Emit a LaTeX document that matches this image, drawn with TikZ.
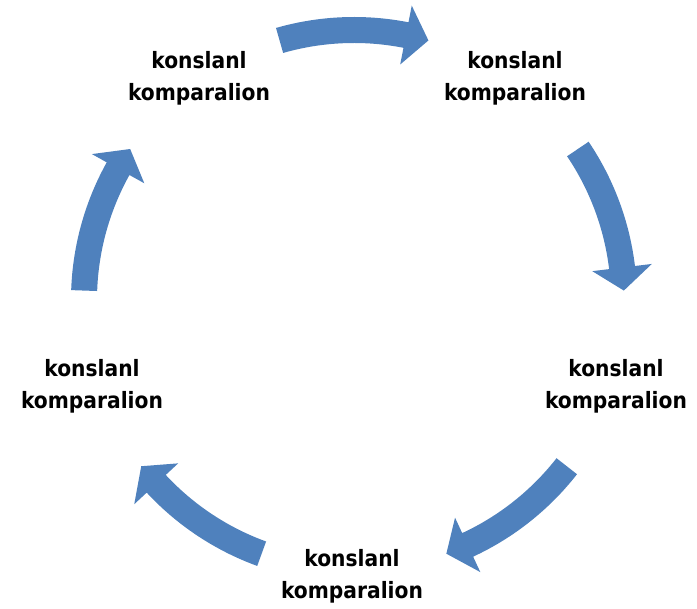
\documentclass[tikz,border=0pt]{standalone}
\usepackage{fontspec}
\setmainfont{DejaVu Sans}
\newfontfamily\stagefont{DejaVu Sans Condensed}
\usetikzlibrary{calc}
\definecolor{cycleblue}{HTML}{4F81BD}
% curved block arrow on the cycle: #1 = tail angle, #2 = tip angle (runs clockwise)
\newcommand\cyclearc[2]{%
  \fill[cyclefill, shift={(C)}]
    ({#1}:283) arc[start angle={#1}, end angle={#2+4.9}, radius=283]
    -- ({#2+4.9}:300) -- ({#2}:270) -- ({#2+4.9}:240) -- ({#2+4.9}:257)
    arc[start angle={#2+4.9}, end angle={#1}, radius=257] -- cycle;}
\begin{document}
\begin{tikzpicture}[x=1pt,y=1pt,
  steplabel/.style={align=center, font=\stagefont\fontsize{22.5}{32}\selectfont\bfseries,
    text=black, inner sep=0pt},
  cyclefill/.style={fill=cycleblue, draw=none}]
\useasboundingbox (0,0) rectangle (697,609);
\coordinate (C) at (354,309);

% the five stages
\node[steplabel] (n1) at (199,531) {konslanl\\komparalion};
\node[steplabel] (n2) at (515,531) {konslanl\\komparalion};
\node[steplabel] (n3) at (616,223) {konslanl\\komparalion};
\node[steplabel] (n4) at (352,33)  {konslanl\\komparalion};
\node[steplabel] (n5) at (92,223)  {konslanl\\komparalion};

% arrows between consecutive stages
\cyclearc{106}{74}
\cyclearc{34}{2}
\cyclearc{-38}{-70}
\cyclearc{-110}{-142}
\cyclearc{-182}{-214}
\end{tikzpicture}
\end{document}
